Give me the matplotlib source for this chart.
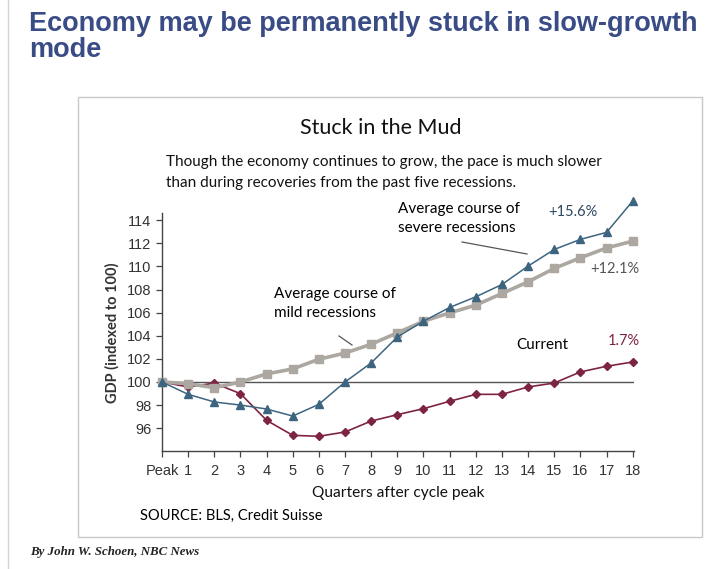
"""Stuck in the Mud: GDP recovery paths after cycle peaks."""

import matplotlib
matplotlib.use("Agg")
import matplotlib.pyplot as plt
from matplotlib.lines import Line2D
from matplotlib.patches import Rectangle

W, H = 710, 569

QUARTERS = list(range(19))
TICK_LABELS = ["Peak"] + [str(q) for q in range(1, 19)]
MILD = [100, 99.86, 99.5, 100, 100.7, 101.13, 101.97, 102.5, 103.27, 104.25,
        105.26, 105.98, 106.65, 107.66, 108.67, 109.83, 110.75, 111.6, 112.19]
SEVERE = [100, 98.93, 98.27, 98.0, 97.66, 97.05, 98.07, 100, 101.65, 103.9,
          105.26, 106.45, 107.37, 108.44, 110.03, 111.47, 112.34, 112.95, 115.66]
CURRENT = [100, 99.57, 99.9, 98.99, 96.68, 95.38, 95.3, 95.67, 96.62, 97.17,
           97.69, 98.33, 98.93, 98.93, 99.57, 99.91, 100.87, 101.36, 101.73]
Y_TICKS = list(range(96, 115, 2))

GRAY = "#aca7a1"
BLUE = "#3d6580"
RED = "#7e2443"
HEAD = "#3a4c86"
BODY = "Lato"


def fx(x):
    return x / W


def fy(y):
    return 1 - y / H


def ftext(fig, x, y, s, **kw):
    kw.setdefault("va", "center")
    return fig.text(fx(x), fy(y), s, **kw)


def fline(fig, x0, y0, x1, y1, color="#555555", lw=0.9):
    fig.add_artist(Line2D([fx(x0), fx(x1)], [fy(y0), fy(y1)], color=color, lw=lw,
                          transform=fig.transFigure))


def main():
    fig = plt.figure(figsize=(W / 100, H / 100), dpi=100)
    fig.patch.set_facecolor("white")

    # page frame and chart box
    fline(fig, 8, 0, 8, H, color="#d4d4d4", lw=1.0)
    fig.add_artist(Rectangle((fx(78), fy(537)), fx(702) - fx(78), fy(97) - fy(537),
                             transform=fig.transFigure, fill=False,
                             edgecolor="#c9c9c9", lw=1.0))

    ftext(fig, 29, 24, "Economy may be permanently stuck in slow-growth",
          fontsize=19.5, fontweight="bold", color=HEAD, family="Liberation Sans")
    ftext(fig, 29, 50, "mode", fontsize=19.5, fontweight="bold", color=HEAD,
          family="Liberation Sans")

    ftext(fig, 381, 128, "Stuck in the Mud", ha="center", fontsize=15.5,
          family=BODY, color="#111111")
    ftext(fig, 166, 162, "Though the economy continues to grow, the pace is much slower",
          fontsize=11, family=BODY, color="#111111")
    ftext(fig, 166, 183, "than during recoveries from the past five recessions.",
          fontsize=11, family=BODY, color="#111111")

    left, right = 162, 634
    bottom, top = 451.3, 213.3
    ax = fig.add_axes([fx(left), fy(bottom), fx(right) - fx(left), fy(top) - fy(bottom)])
    ax.set_xlim(0, 18.05)
    ax.set_ylim(94, 114.6)

    ax.axhline(100, color="#555555", lw=1.0, zorder=1)
    ax.plot(QUARTERS, CURRENT, color=RED, lw=1.2, marker="D", ms=3.6,
            zorder=2, clip_on=False)
    ax.plot(QUARTERS, MILD, color=GRAY, lw=2.6, marker="s", ms=6.3,
            zorder=3, clip_on=False)
    ax.plot(QUARTERS, SEVERE, color=BLUE, lw=1.1, marker="^", ms=5.2,
            zorder=4, clip_on=False)

    for side in ("top", "right"):
        ax.spines[side].set_visible(False)
    for side in ("left", "bottom"):
        ax.spines[side].set_color("#444444")
        ax.spines[side].set_linewidth(1.0)

    ax.set_yticks(Y_TICKS)
    ax.set_yticklabels([str(t) for t in Y_TICKS])
    ax.set_xticks(QUARTERS)
    ax.set_xticklabels(TICK_LABELS)
    ax.tick_params(axis="both", direction="out", length=4, width=0.9,
                   color="#444444", labelsize=10.5, labelcolor="#333333")
    ax.tick_params(axis="x", pad=5)
    for lab in ax.get_xticklabels() + ax.get_yticklabels():
        lab.set_family("Liberation Sans")

    ax.set_ylabel("GDP (indexed to 100)", fontsize=10.5, family=BODY,
                  fontweight="bold", color="#333333", labelpad=5)
    ax.set_xlabel("Quarters after cycle peak", fontsize=11.2, family=BODY,
                  color="#111111", labelpad=6)

    # annotations
    ftext(fig, 398, 209, "Average course of", fontsize=11, family=BODY)
    ftext(fig, 398, 228, "severe recessions", fontsize=11, family=BODY)
    fline(fig, 462, 242, 527, 254)
    ftext(fig, 573, 212, "+15.6%", ha="center", fontsize=10.5, family=BODY,
          color="#2c4a62")
    ftext(fig, 615, 269, "+12.1%", ha="center", fontsize=10.5, family=BODY,
          color="#555555")
    ftext(fig, 274, 294, "Average course of", fontsize=11, family=BODY)
    ftext(fig, 274, 313, "mild recessions", fontsize=11, family=BODY)
    fline(fig, 339, 336, 352, 345)
    ftext(fig, 516, 345, "Current", fontsize=11, family=BODY)
    ftext(fig, 624, 341, "1.7%", ha="center", fontsize=10.5, family=BODY, color=RED)

    ftext(fig, 140, 516, "SOURCE: BLS, Credit Suisse", fontsize=10.6, family=BODY)
    ftext(fig, 30, 552, "By John W. Schoen, NBC News", fontsize=9.3,
          family="Liberation Serif", style="italic", fontweight="bold",
          color="#222222")

    fig.savefig("out.png", dpi=100, facecolor="white")
    plt.close(fig)


if __name__ == "__main__":
    main()
